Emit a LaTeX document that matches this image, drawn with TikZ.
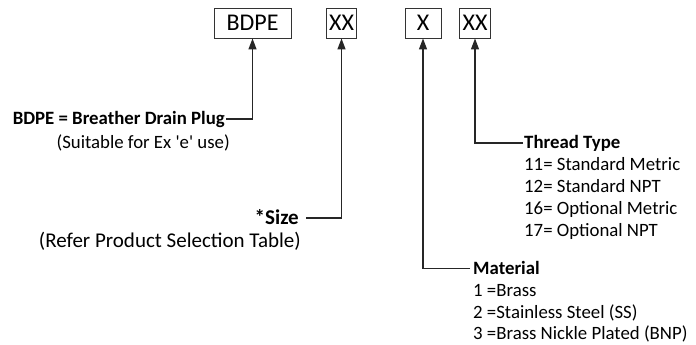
\documentclass[tikz,border=0pt]{standalone}
\usepackage{fontspec}
\setmainfont{Carlito}
\newfontfamily\rawf{Carlito}
\usetikzlibrary{arrows.meta}
\begin{document}
\begin{tikzpicture}[x=1pt,y=-1pt,
  codebox/.style={draw=black!80,line width=0.9pt,inner sep=0pt,minimum height=30pt,font=\fontsize{24}{28}\selectfont},
  lbl/.style={inner sep=0pt,text height=11.8pt,text depth=0pt,font=\fontsize{18.8}{22}\selectfont},
  blbl/.style={lbl,font=\fontsize{18.8}{22}\selectfont\bfseries},
  biglbl/.style={inner sep=0pt,text height=13pt,text depth=0pt,font=\fontsize{21}{25}\selectfont},
  conn/.style={draw=black!85,line width=1.3pt,-{Triangle[length=11pt,width=8pt]}}]
\useasboundingbox (0,0) rectangle (696,345);
% code boxes
\node[codebox,minimum width=77pt] (b1) at (252.5,23) {BDPE};
\node[codebox,minimum width=30pt] (b2) at (341.5,23) {XX};
\node[codebox,minimum width=36pt] (b3) at (423,23) {X};
\node[codebox,minimum width=31pt] (b4) at (475,23) {XX};
% BDPE
\node[blbl,anchor=east] (l1) at (225,119) {BDPE = Breather Drain Plug};
\node[lbl,anchor=east] (l1b) at (230,143) {(Suitable for Ex {\rawf 'e'} use)};
% Size
\node[biglbl,anchor=east,font=\fontsize{21}{25}\selectfont\bfseries] (l2) at (299,218) {*Size};
\node[biglbl,anchor=east] (l2b) at (301,241) {(Refer Product Selection Table)};
% Material
\node[blbl,anchor=west] (l3) at (473,268.5) {Material};
\node[lbl,anchor=west] (l3a) at (473,290.5) {1 =Brass};
\node[lbl,anchor=west] (l3b) at (473,312.5) {2 =Stainless Steel (SS)};
\node[lbl,anchor=west] (l3c) at (473,334) {3 =Brass Nickle Plated (BNP)};
% Thread type
\node[blbl,anchor=west] (l4) at (524,143) {Thread Type};
\node[lbl,anchor=west] (l4a) at (524,165) {11= Standard Metric};
\node[lbl,anchor=west] (l4b) at (524,187) {12= Standard NPT};
\node[lbl,anchor=west] (l4c) at (524,209) {16= Optional Metric};
\node[lbl,anchor=west] (l4d) at (524,231) {17= Optional NPT};
% connectors
\draw[conn] ([xshift=1pt]l1.east) -| (b1.south);
\draw[conn] ([xshift=7pt]l2.east) -| (b2.south);
\draw[conn] ([xshift=-3pt]l3.west) -| (b3.south);
\draw[conn] ([xshift=-1pt]l4.west) -| (b4.south);
\end{tikzpicture}
\end{document}
